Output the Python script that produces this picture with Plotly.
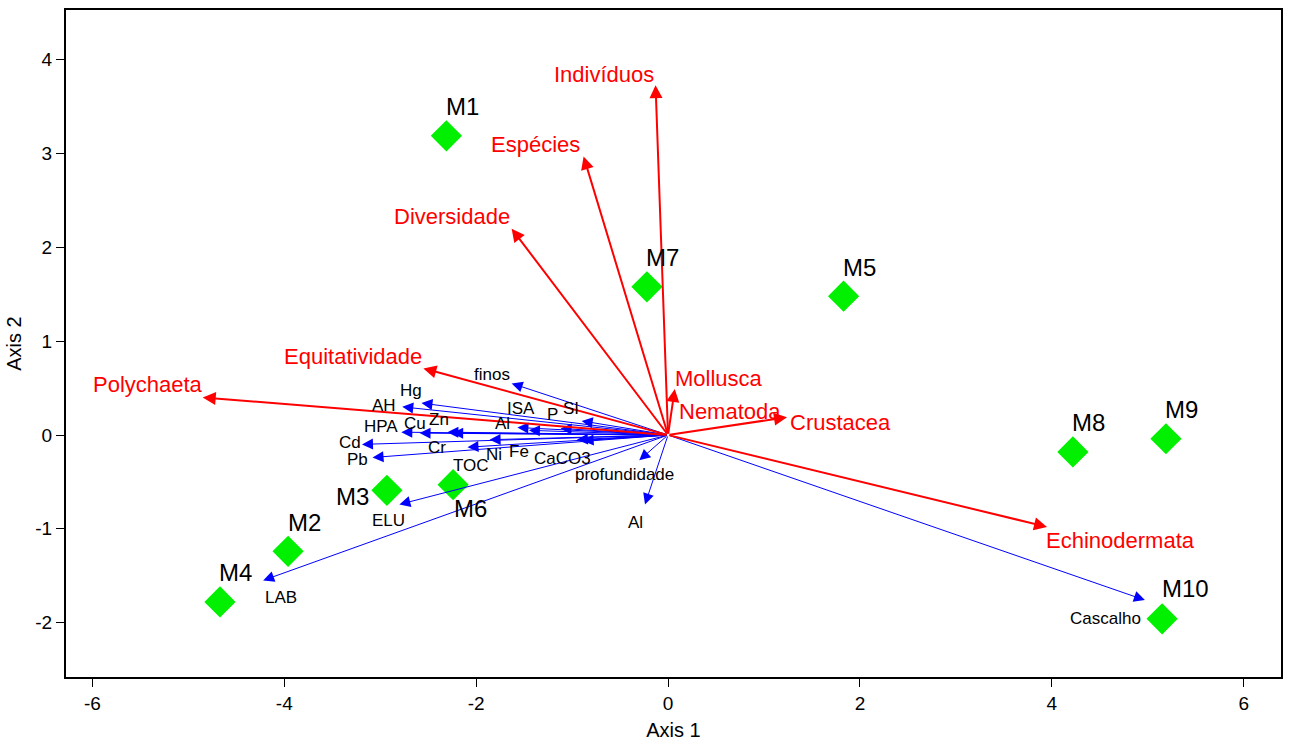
import plotly.graph_objects as go

# Sample scores
sites = ["M1", "M2", "M3", "M4", "M5", "M6", "M7", "M8", "M9", "M10"]
site_x = [-2.31, -3.96, -2.93, -4.67, 1.83, -2.24, -0.22, 4.22, 5.19, 5.15]
site_y = [3.19, -1.24, -0.59, -1.78, 1.48, -0.53, 1.58, -0.18, -0.04, -1.96]

# Biological variables (red arrows)
bio_names = ["Indivíduos", "Espécies", "Diversidade", "Equitatividade", "Polychaeta",
             "Mollusca", "Nematoda", "Crustacea", "Echinodermata"]
bio_x = [-0.13, -0.88, -1.63, -2.55, -4.85, 0.07, 0.01, 1.24, 3.95]
bio_y = [3.73, 2.97, 2.20, 0.71, 0.40, 0.49, -0.05, 0.19, -0.98]

# Environmental variables (blue arrows)
env_names = ["finos", "Hg", "AH", "ISA", "P", "SI", "Al", "HPA", "Cu", "Zn", "TOC",
             "Cd", "Pb", "Cr", "Ni", "Fe", "CaCO3", "profundidade", "Al", "ELU", "LAB", "Cascalho"]
env_x = [-1.63, -2.57, -2.77, -1.45, -1.12, -0.90, -1.57, -2.78, -2.59, -2.30, -2.25,
         -3.19, -3.08, -2.09, -1.86, -0.95, -0.89, -0.30, -0.24, -2.80, -4.22, 4.97]
env_y = [0.55, 0.34, 0.30, 0.05, 0.07, 0.15, 0.08, 0.03, 0.02, 0.03, 0.02,
         -0.10, -0.24, -0.13, -0.05, -0.05, -0.06, -0.27, -0.74, -0.74, -1.55, -1.76]

# Tick labels
x_ticks = [-6, -4, -2, 0, 2, 4, 6]
x_ticklabels = ["-6", "-4", "-2", "0", "2", "4", "6"]
y_ticks = [-2, -1, 0, 1, 2, 3, 4]
y_ticklabels = ["-2", "-1", "0", "1", "2", "3", "4"]

# label pixel offsets (dx right, dy down) relative to tip / point
site_off = {"M3": (-34, 6), "M6": (17, 24), "M10": (23, -30)}
bio_off = [(-52, -11), (-48, -12), (-60, -12), (-70, -12), (-55, -13),
           (44, -11), (61, -28), (53, 5), (73, 14)]
env_off = [(-20, -9), (-10, -13), (-18, -1), (-8, -22), (-8, -14), (-11, -12), (-15, -4),
           (-20, -6), (-5, -10), (-8, -13), (19, 32), (-12, -2), (-15, 2), (-31, 0),
           (4, 15), (-58, 12), (-20, 18), (-15, 14), (-10, 18), (-11, 16), (18, 17), (-39, 18)]

FONT = "Liberation Sans, Arial, sans-serif"

fig = go.Figure()

fig.add_trace(go.Scatter(
    x=site_x, y=site_y, mode="markers",
    marker=dict(symbol="diamond", size=24, color="#00f000", line=dict(width=0)),
    showlegend=False, hoverinfo="text", text=sites))

ann = []
for n, x, y, (dx, dy) in zip(env_names, env_x, env_y, env_off):
    ann.append(dict(x=x, y=y, ax=0, ay=0, xref="x", yref="y", axref="x", ayref="y",
                    text="", showarrow=True, arrowhead=2, arrowsize=2.2, arrowwidth=1,
                    arrowcolor="#0000ff", standoff=0, startstandoff=0))
for n, x, y, (dx, dy) in zip(bio_names, bio_x, bio_y, bio_off):
    ann.append(dict(x=x, y=y, ax=0, ay=0, xref="x", yref="y", axref="x", ayref="y",
                    text="", showarrow=True, arrowhead=2, arrowsize=1.3, arrowwidth=2,
                    arrowcolor="#ff0000", standoff=0, startstandoff=0))
for n, x, y, (dx, dy) in zip(env_names, env_x, env_y, env_off):
    ann.append(dict(x=x, y=y, xref="x", yref="y", text=n, showarrow=False,
                    xshift=dx, yshift=-dy, xanchor="center", yanchor="middle",
                    font=dict(family=FONT, size=17, color="black")))
for n, x, y, (dx, dy) in zip(bio_names, bio_x, bio_y, bio_off):
    ann.append(dict(x=x, y=y, xref="x", yref="y", text=n, showarrow=False,
                    xshift=dx, yshift=-dy, xanchor="center", yanchor="middle",
                    font=dict(family=FONT, size=22, color="#ff0000")))
for n, x, y in zip(sites, site_x, site_y):
    dx, dy = site_off.get(n, (16, -29))
    ann.append(dict(x=x, y=y, xref="x", yref="y", text=n, showarrow=False,
                    xshift=dx, yshift=-dy, xanchor="center", yanchor="middle",
                    font=dict(family=FONT, size=24, color="black")))

fig.update_layout(
    width=1290, height=745,
    margin=dict(l=66, r=7, t=10, b=68),
    paper_bgcolor="white", plot_bgcolor="white",
    font=dict(family=FONT, size=19, color="black"),
    annotations=ann,
    xaxis=dict(range=[-6.275, 6.389], tickvals=x_ticks, ticktext=x_ticklabels,
               showgrid=False, zeroline=False, showline=True, linecolor="black",
               linewidth=2, mirror=True, ticks="outside", ticklen=8, tickcolor="black",
               tickfont=dict(size=19), title=dict(text="Axis 1", font=dict(size=20), standoff=10)),
    yaxis=dict(range=[-2.58, 4.531], tickvals=y_ticks, ticktext=y_ticklabels,
               showgrid=False, zeroline=False, showline=True, linecolor="black",
               linewidth=2, mirror=True, ticks="outside", ticklen=8, tickcolor="black",
               tickfont=dict(size=19), title=dict(text="Axis 2", font=dict(size=20), standoff=8)),
)

fig.write_html("out.html")
